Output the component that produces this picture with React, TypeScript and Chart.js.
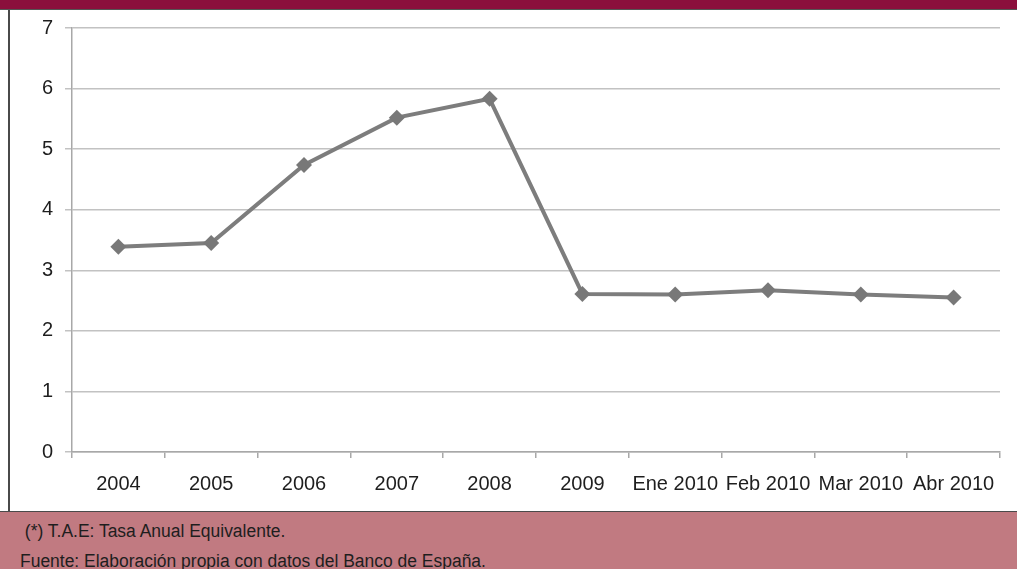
import React, { useEffect, useRef } from "react";
import { Chart, registerables } from "chart.js";

Chart.register(...registerables);

const categories = ["2004", "2005", "2006", "2007", "2008", "2009", "Ene 2010", "Feb 2010", "Mar 2010", "Abr 2010"];
const values = [3.39, 3.45, 4.74, 5.52, 5.83, 2.61, 2.6, 2.67, 2.6, 2.55];
const yTicks = [0, 1, 2, 3, 4, 5, 6, 7];
const footnote1 = " (*) T.A.E: Tasa Anual Equivalente.";
const footnote2 = "Fuente: Elaboración propia con datos del Banco de España.";

const FONT = "'Liberation Sans Narrow', 'Arial Narrow', 'Liberation Sans', Arial, sans-serif";

export default function App() {
  const ref = useRef<HTMLCanvasElement | null>(null);

  useEffect(() => {
    if (!ref.current) return;
    const chart = new Chart(ref.current, {
      type: "line",
      data: {
        labels: categories,
        datasets: [
          {
            data: values,
            borderColor: "#7d7d7d",
            backgroundColor: "#7d7d7d",
            borderWidth: 4,
            pointStyle: "rectRot",
            pointRadius: 8,
            pointBorderWidth: 0,
            pointBackgroundColor: "#787878",
            tension: 0,
          },
        ],
      },
      options: {
        animation: false,
        responsive: false,
        maintainAspectRatio: false,
        plugins: { legend: { display: false }, tooltip: { enabled: false } },
        layout: { padding: { left: 0, right: 17, top: 18, bottom: 0 } },
        scales: {
          x: {
            type: "category",
            offset: true,
            grid: {
              drawOnChartArea: false,
              drawTicks: true,
              tickLength: 6,
              color: "#a8a8a8",
              lineWidth: 1.5,
              offset: true,
            },
            border: { display: true, color: "#a8a8a8", width: 1.5 },
            ticks: {
              color: "#1e1e1e",
              font: { family: FONT, size: 20 },
              padding: 14,
              maxRotation: 0,
              autoSkip: false,
            },
            afterFit: (s: any) => {
              s.height = 59;
            },
          },
          y: {
            min: 0,
            max: 7,
            afterBuildTicks: (s: any) => {
              s.ticks = yTicks.map((v) => ({ value: v }));
            },
            grid: {
              color: "#c2c2c2",
              lineWidth: 1.5,
              tickLength: 7,
              drawTicks: true,
            },
            border: { display: true, color: "#a8a8a8", width: 1.5 },
            ticks: {
              color: "#1e1e1e",
              font: { family: FONT, size: 20 },
              padding: 12,
            },
            afterFit: (s: any) => {
              s.width = 62;
              s.paddingTop = 0;
              s.paddingBottom = 0;
            },
          },
        },
      },
    });
    return () => chart.destroy();
  }, []);

  const footStyle: React.CSSProperties = {
    position: "absolute",
    left: 20,
    fontSize: 18,
    color: "#1e1e1e",
    whiteSpace: "pre",
    lineHeight: "22px",
    transform: "scaleX(0.97)",
    transformOrigin: "left center",
  };

  return (
    <div
      style={{
        position: "absolute",
        left: 0,
        top: 0,
        width: 1017,
        height: 569,
        background: "#ffffff",
        overflow: "hidden",
        fontFamily: FONT,
      }}
    >
      <div style={{ position: "absolute", left: 0, top: 0, width: 1017, height: 9, background: "#8b0f3c" }} />
      <div style={{ position: "absolute", left: 0, top: 9, width: 1017, height: 1, background: "#555" }} />
      <div style={{ position: "absolute", left: 8, top: 10, width: 2, height: 501, background: "#4a4a4a" }} />
      <canvas
        ref={ref}
        width={1007}
        height={501}
        style={{ position: "absolute", left: 10, top: 10, width: 1007, height: 501 }}
      />
      <div
        style={{
          position: "absolute",
          left: 0,
          top: 511,
          width: 1017,
          height: 58,
          background: "#c17a81",
          borderTop: "1px solid #4a4a4a",
          boxSizing: "border-box",
        }}
      >
        <div style={{ ...footStyle, top: 8 }}>{footnote1}</div>
        <div style={{ ...footStyle, top: 38 }}>{footnote2}</div>
      </div>
    </div>
  );
}
